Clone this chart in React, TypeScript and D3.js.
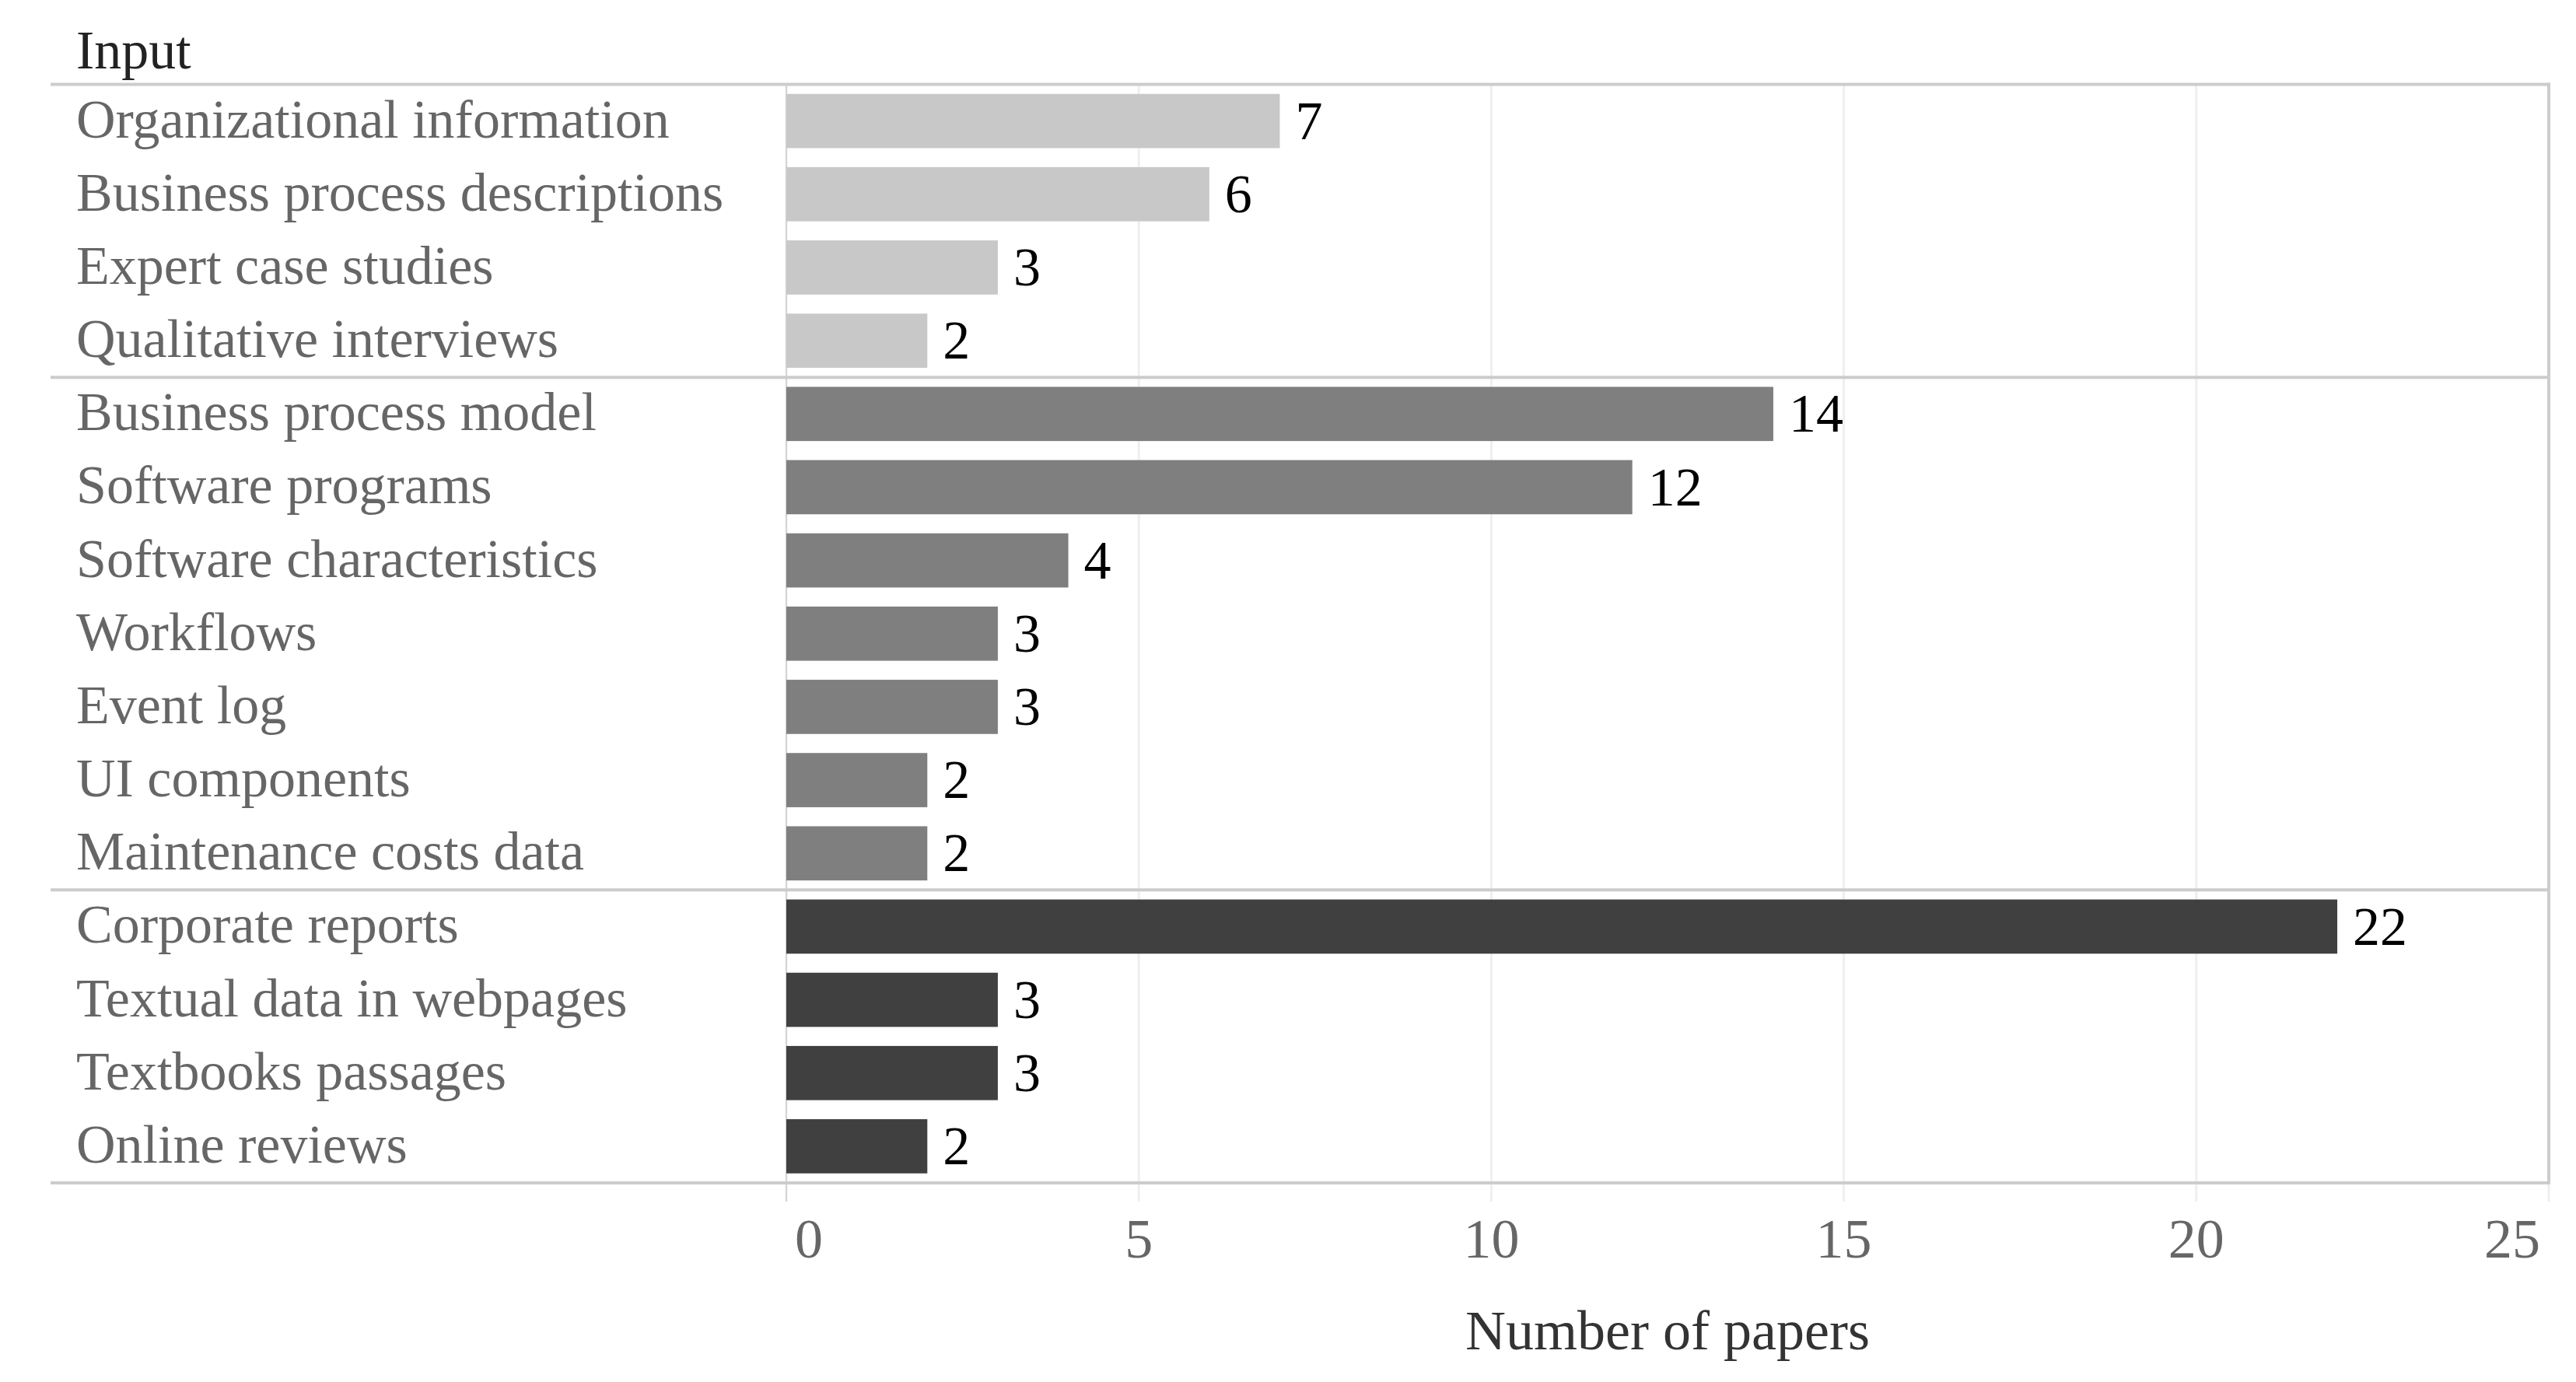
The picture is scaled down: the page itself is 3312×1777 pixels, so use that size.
import { useEffect, useRef } from 'react';
import * as d3 from 'd3';

const categories = [
  'Organizational information',
  'Business process descriptions',
  'Expert case studies',
  'Qualitative interviews',
  'Business process model',
  'Software programs',
  'Software characteristics',
  'Workflows',
  'Event log',
  'UI components',
  'Maintenance costs data',
  'Corporate reports',
  'Textual data in webpages',
  'Textbooks passages',
  'Online reviews',
];
const counts = [7, 6, 3, 2, 14, 12, 4, 3, 3, 2, 2, 22, 3, 3, 2];
const groupOf = [0, 0, 0, 0, 1, 1, 1, 1, 1, 1, 1, 2, 2, 2, 2];
const groupColors = ['#c8c8c8', '#7f7f7f', '#404040'];
const xTicks = [0, 5, 10, 15, 20, 25];

const W = 3312;
const H = 1777;
const FONT = '"Liberation Serif", "Times New Roman", serif';

const App = () => {
  const ref = useRef(null);

  useEffect(() => {
    const svg = d3.select(ref.current);
    svg.selectAll('*').remove();

    const panel = { left: 1011, right: 3277, top: 108.5, bottom: 1521 };
    const lineLeft = 65;
    const gridBottom = 1545;

    const x = d3.scaleLinear().domain([0, 25]).range([panel.left, panel.right]);
    const pad = 0.26;
    const y = d3.scaleBand()
      .domain(categories)
      .range([panel.top, panel.bottom])
      .paddingInner(pad)
      .paddingOuter(pad / 2);
    const step = y.step();
    const edge = (c) => y(c) - (step * pad) / 2;

    svg.append('rect').attr('width', W).attr('height', H).attr('fill', '#fff');

    // vertical grid
    svg.append('g')
      .selectAll('line').data(xTicks).enter().append('line')
      .attr('x1', d => x(d)).attr('x2', d => x(d))
      .attr('y1', panel.top).attr('y2', gridBottom)
      .attr('stroke', '#efefef').attr('stroke-width', 3);

    // y axis line
    svg.append('line')
      .attr('x1', x(0)).attr('x2', x(0))
      .attr('y1', panel.top).attr('y2', gridBottom)
      .attr('stroke', '#d6d6d6').attr('stroke-width', 2);

    // bars
    svg.append('g')
      .selectAll('rect').data(categories).enter().append('rect')
      .attr('x', x(0))
      .attr('y', d => y(d))
      .attr('width', (d, i) => x(counts[i]) - x(0))
      .attr('height', y.bandwidth())
      .attr('fill', (d, i) => groupColors[groupOf[i]]);

    // value labels
    svg.append('g')
      .selectAll('text').data(categories).enter().append('text')
      .attr('x', (d, i) => x(counts[i]) + 20)
      .attr('y', d => y(d) + y.bandwidth() / 2)
      .attr('dy', '0.33em')
      .attr('font-family', FONT).attr('font-size', 70)
      .attr('fill', '#000')
      .text((d, i) => counts[i]);

    // group separators (top, between groups, bottom)
    const starts = categories.filter((c, i) => i === 0 || groupOf[i] !== groupOf[i - 1]);
    const sepY = starts.map(edge).concat([panel.bottom]);
    svg.append('g')
      .selectAll('line').data(sepY).enter().append('line')
      .attr('x1', lineLeft).attr('x2', panel.right + 2)
      .attr('y1', d => d).attr('y2', d => d)
      .attr('stroke', '#cccccc').attr('stroke-width', 4);

    // right border
    svg.append('line')
      .attr('x1', panel.right).attr('x2', panel.right)
      .attr('y1', panel.top - 2).attr('y2', panel.bottom + 2)
      .attr('stroke', '#cccccc').attr('stroke-width', 4);

    // category labels
    svg.append('g')
      .selectAll('text').data(categories).enter().append('text')
      .attr('x', 98)
      .attr('y', d => y(d) + y.bandwidth() / 2)
      .attr('dy', '0.3em')
      .attr('font-family', FONT).attr('font-size', 70)
      .attr('fill', '#666666')
      .text(d => d);

    // header
    svg.append('text')
      .attr('x', 98).attr('y', 88)
      .attr('font-family', FONT).attr('font-size', 70)
      .attr('fill', '#222222')
      .text('Input');

    // x tick labels
    svg.append('g')
      .selectAll('text').data(xTicks).enter().append('text')
      .attr('x', (d, i) => i === 0 ? x(d) + 11 : i === xTicks.length - 1 ? x(d) - 11 : x(d))
      .attr('y', 1617)
      .attr('text-anchor', (d, i) => i === 0 ? 'start' : i === xTicks.length - 1 ? 'end' : 'middle')
      .attr('font-family', FONT).attr('font-size', 72)
      .attr('fill', '#666666')
      .text(d => d);

    svg.append('text')
      .attr('x', (panel.left + panel.right) / 2).attr('y', 1735)
      .attr('text-anchor', 'middle')
      .attr('font-family', FONT).attr('font-size', 72)
      .attr('fill', '#333333')
      .text('Number of papers');
  }, []);

  return (
    <svg ref={ref} width={W} height={H} style={{ position: 'absolute', left: 0, top: 0 }} />
  );
};

export default App;
